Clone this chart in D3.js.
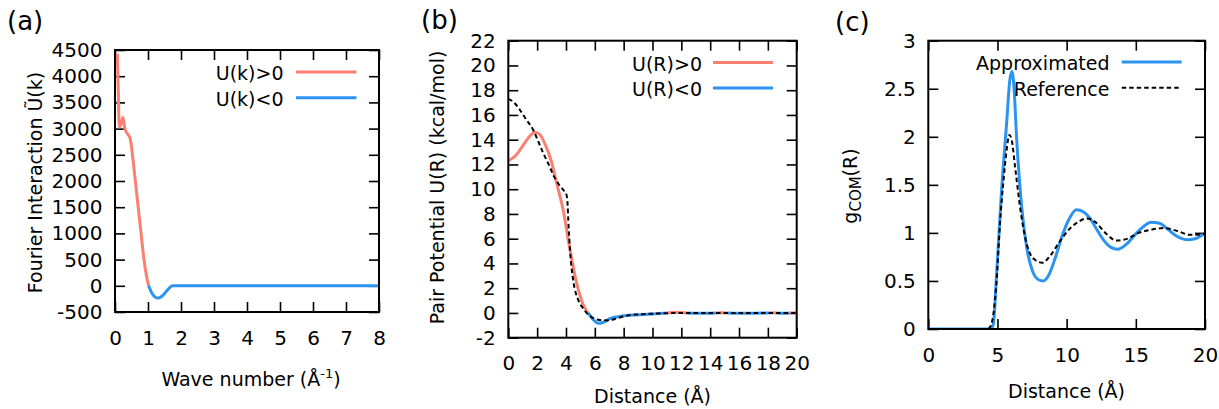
<!DOCTYPE html>
<html>
<head>
<meta charset="utf-8">
<script src="https://cdn.jsdelivr.net/npm/d3@7"></script>
<style>
  body { margin: 0; background: #fff; }
  svg text { font-family: "DejaVu Sans", sans-serif; fill: #000; }
</style>
</head>
<body>
<svg id="fig" width="1219" height="409"></svg>
<script>
// ---------- (a) Fourier-space interaction Ũ(k) ----------
const waveNumber = [0.07, 0.10, 0.13, 0.19, 0.24, 0.30, 0.38, 0.46, 0.57, 0.68, 0.79, 0.88, 0.96, 1.02,
                    1.10, 1.20, 1.31, 1.42, 1.55, 1.65, 1.74, 3, 5, 8];
const fourierU   = [4430, 3700, 3030, 3100, 3210, 3000, 2900, 2810, 2270, 1630, 1000, 490, 170, 0,
                    -120, -205, -235, -200, -110, -40, 0, 0, 0, 0];
const xTicksA = [0, 1, 2, 3, 4, 5, 6, 7, 8];
const yTicksA = [-500, 0, 500, 1000, 1500, 2000, 2500, 3000, 3500, 4000, 4500];

// ---------- (b) pair potential U(R) ----------
const distanceB = [0, 0.5, 1.0, 1.5, 1.85, 2.2, 2.6, 3.0, 3.35, 3.81, 4.28, 4.74, 5.0, 5.32, 5.54,
                   5.9, 6.25, 6.6, 7.05, 7.6, 8.2, 9, 10, 10.97, 11.7, 12.4, 13.4, 14.4, 14.8, 15.2,
                   16.6, 18.1, 18.35, 18.6, 19.0, 19.5, 20];
const pairU     = [12.3, 12.7, 13.5, 14.3, 14.6, 14.4, 13.5, 12.2, 10.5, 8.3, 5.1, 2.4, 1.3, 0.37, 0,
                   -0.55, -0.84, -0.75, -0.45, -0.3, -0.2, -0.15, -0.08, 0, 0.05, 0, -0.03, 0, 0.02, 0,
                   -0.03, 0, 0.015, 0, -0.02, 0, 0.015];
const distanceBRef = [0, 0.4, 0.81, 1.2, 1.73, 2.1, 2.43, 2.8, 3.12, 3.5, 3.81, 4.02, 4.1, 4.16, 4.28,
                      4.5, 4.85, 5.2, 5.43, 5.8, 6.35, 6.9, 7.5, 8.2, 9, 10, 11, 12, 14, 16, 18, 20];
const pairURef     = [17.3, 17.0, 16.4, 15.7, 14.78, 13.8, 12.9, 12.0, 11.15, 10.4, 9.94, 9.6, 9.0, 7.5, 5.09,
                      2.66, 1.05, 0.35, 0.0, -0.35, -0.57, -0.6, -0.45, -0.22, -0.12, -0.06, -0.02, 0, 0, 0, 0, 0];
const xTicksB = [0, 2, 4, 6, 8, 10, 12, 14, 16, 18, 20];
const yTicksB = [-2, 0, 2, 4, 6, 8, 10, 12, 14, 16, 18, 20, 22];

// ---------- (c) centre-of-mass radial distribution ----------
const distanceC = [0, 4.5, 4.7, 4.94, 5.3, 5.66, 5.9, 6.05, 6.2, 6.39, 6.75, 7.1, 7.6, 8.0, 8.3, 8.7,
                   9.2, 9.7, 10.2, 10.7, 11.2, 11.7, 12.2, 12.7, 13.2, 13.7, 14.3, 15.0, 15.5, 16.1,
                   16.7, 17.3, 17.9, 18.7, 19.3, 20];
const gApprox   = [0, 0, 0.05, 0.58, 1.45, 2.14, 2.6, 2.68, 2.5, 1.97, 1.27, 0.86, 0.58, 0.51, 0.50, 0.56,
                   0.75, 0.98, 1.15, 1.24, 1.22, 1.15, 1.03, 0.92, 0.85, 0.83, 0.88, 0.99, 1.06, 1.11,
                   1.10, 1.04, 0.97, 0.93, 0.94, 1.00];
const distanceCRef = [0, 4.3, 4.46, 4.7, 4.94, 5.18, 5.42, 5.65, 5.86, 6.05, 6.27, 6.63, 7.1, 7.7, 8.25,
                      8.8, 9.5, 10.2, 10.8, 11.45, 12.1, 12.8, 13.6, 14.4, 15.2, 16.0, 17.0, 18.0, 18.9, 19.5, 20];
const gReference   = [0, 0, 0.02, 0.15, 0.51, 1.10, 1.52, 1.85, 2.02, 1.95, 1.69, 1.27, 0.89, 0.72, 0.69,
                      0.76, 0.91, 1.04, 1.11, 1.15, 1.11, 1.0, 0.92, 0.94, 1.0, 1.03, 1.05, 1.02, 0.98, 0.98, 0.995];
const xTicksC = [0, 5, 10, 15, 20];
const yTicksC = [0, 0.5, 1, 1.5, 2, 2.5, 3];

const POS = "#fa8072";   // positive part / salmon
const NEG = "#2c94f0";   // negative part / blue
const TICK = 10;

const svg = d3.select("#fig");

// Break a curve into runs of equal sign, sharing the zero-crossing point between neighbours.
function splitBySign(xs, ys) {
  const pts = xs.map((x, i) => ({ x, y: ys[i] }));
  const first = pts.find(p => p.y !== 0);
  let curSign = first ? Math.sign(first.y) : 1;
  let cur = [pts[0]];
  const runs = [];
  for (let i = 1; i < pts.length; i++) {
    const p = pts[i];
    const s = Math.sign(p.y);
    if (s === 0 || s === curSign) { cur.push(p); continue; }
    const last = cur[cur.length - 1];
    let joint = last;
    if (last.y !== 0) {
      const t = last.y / (last.y - p.y);
      joint = { x: last.x + t * (p.x - last.x), y: 0 };
      cur.push(joint);
    }
    runs.push({ sign: curSign, pts: cur });
    cur = [joint, p];
    curSign = s;
  }
  runs.push({ sign: curSign, pts: cur });
  return runs;
}

function makePanel(cfg) {
  const g = svg.append("g");
  const x = d3.scaleLinear().domain(cfg.xDomain).range([cfg.left, cfg.right]);
  const y = d3.scaleLinear().domain(cfg.yDomain).range([cfg.bottom, cfg.top]);
  const fmt = cfg.yFormat || (d => d);

  const ax = (sel) => { sel.select(".domain").remove();
    sel.selectAll(".tick line").attr("stroke", "#000").attr("stroke-width", 1.6);
    sel.selectAll("text").attr("font-size", 20).attr("font-family", "DejaVu Sans").attr("fill", "#000"); };

  g.append("g").attr("transform", `translate(0,${cfg.bottom})`)
    .call(d3.axisBottom(x).tickValues(cfg.xTicks).tickSize(-TICK).tickSizeOuter(0).tickPadding(18.5).tickFormat(d => d))
    .call(ax);
  g.append("g").attr("transform", `translate(0,${cfg.top})`)
    .call(d3.axisTop(x).tickValues(cfg.xTicks).tickSize(-TICK).tickSizeOuter(0).tickFormat(""))
    .call(ax);
  g.append("g").attr("transform", `translate(${cfg.left},0)`)
    .call(d3.axisLeft(y).tickValues(cfg.yTicks).tickSize(-TICK).tickSizeOuter(0).tickPadding(12.5).tickFormat(fmt))
    .call(ax);
  g.append("g").attr("transform", `translate(${cfg.right},0)`)
    .call(d3.axisRight(y).tickValues(cfg.yTicks).tickSize(-TICK).tickSizeOuter(0).tickFormat(""))
    .call(ax);

  const clipId = "clip-" + cfg.id;
  svg.append("clipPath").attr("id", clipId).append("rect")
    .attr("x", cfg.left).attr("y", cfg.top)
    .attr("width", cfg.right - cfg.left).attr("height", cfg.bottom - cfg.top);
  const plot = g.append("g").attr("clip-path", `url(#${clipId})`);

  g.append("rect").attr("x", cfg.left).attr("y", cfg.top)
    .attr("width", cfg.right - cfg.left).attr("height", cfg.bottom - cfg.top)
    .attr("fill", "none").attr("stroke", "#000").attr("stroke-width", 2);

  return { g, plot, x, y };
}

const lineGen = (x, y) => d3.line().x(d => x(d.x)).y(d => y(d.y)).curve(d3.curveMonotoneX);
const pairs = (xs, ys) => xs.map((v, i) => ({ x: v, y: ys[i] }));

function drawSigned(p, xs, ys) {
  splitBySign(xs, ys).forEach(run => {
    p.plot.append("path").attr("d", lineGen(p.x, p.y)(run.pts))
      .attr("fill", "none").attr("stroke", run.sign > 0 ? POS : NEG)
      .attr("stroke-width", 3).attr("stroke-linejoin", "round");
  });
}
function drawDashed(p, xs, ys) {
  p.plot.append("path").attr("d", lineGen(p.x, p.y)(pairs(xs, ys)))
    .attr("fill", "none").attr("stroke", "#000").attr("stroke-width", 2)
    .attr("stroke-dasharray", "4.5,3");
}
function legendEntry(g, textRight, lineX0, lineX1, lineY, label, style) {
  g.append("text").attr("x", textRight).attr("y", lineY + 8.3).attr("text-anchor", "end")
    .attr("font-size", 19).text(label);
  const l = g.append("line").attr("x1", lineX0).attr("x2", lineX1).attr("y1", lineY).attr("y2", lineY)
    .attr("stroke", style.color).attr("stroke-width", style.width);
  if (style.dash) l.attr("stroke-dasharray", style.dash);
}
function panelTag(x, y, label) {
  svg.append("text").attr("x", x).attr("y", y).attr("font-size", 26).text(label);
}
function yTitle(g, cx, cy, build) {
  const t = g.append("text").attr("transform", `translate(${cx},${cy}) rotate(-90)`)
    .attr("text-anchor", "middle").attr("dy", "0.35em").attr("font-size", 19);
  build(t);
}

// ----- panel (a) -----
const pa = makePanel({ id: "a", left: 115, right: 379, top: 50, bottom: 312,
  xDomain: [0, 8], yDomain: [-500, 4500], xTicks: xTicksA, yTicks: yTicksA });
drawSigned(pa, waveNumber, fourierU);
legendEntry(pa.g, 283.5, 296, 356.5, 72, "U(k)>0", { color: POS, width: 3 });
legendEntry(pa.g, 283.5, 296, 356.5, 97.7, "U(k)<0", { color: NEG, width: 3 });
yTitle(pa.g, 35, 182.5, t => t.text("Fourier Interaction Ũ(k)"));
{
  const t = pa.g.append("text").attr("x", 251).attr("y", 386).attr("text-anchor", "middle").attr("font-size", 19);
  t.append("tspan").text("Wave number (Å");
  t.append("tspan").attr("font-size", 13).attr("dy", -8).text("-1");
  t.append("tspan").attr("dy", 8).text(")");
}
panelTag(7, 30, "(a)");

// ----- panel (b) -----
const pb = makePanel({ id: "b", left: 508.3, right: 796.7, top: 40.7, bottom: 337.7,
  xDomain: [0, 20], yDomain: [-2, 22], xTicks: xTicksB, yTicks: yTicksB });
drawSigned(pb, distanceB, pairU);
drawDashed(pb, distanceBRef, pairURef);
legendEntry(pb.g, 702, 713, 773, 62.5, "U(R)>0", { color: POS, width: 3 });
legendEntry(pb.g, 702, 713, 773, 88, "U(R)<0", { color: NEG, width: 3 });
yTitle(pb.g, 437.5, 187.5, t => t.text("Pair Potential U(R) (kcal/mol)"));
pb.g.append("text").attr("x", 652.5).attr("y", 403).attr("text-anchor", "middle").attr("font-size", 19).text("Distance (Å)");
panelTag(421, 29, "(b)");

// ----- panel (c) -----
const pc = makePanel({ id: "c", left: 928.3, right: 1205, top: 40.7, bottom: 329,
  xDomain: [0, 20], yDomain: [0, 3], xTicks: xTicksC, yTicks: yTicksC });
pc.plot.append("path").attr("d", lineGen(pc.x, pc.y)(pairs(distanceC, gApprox)))
  .attr("fill", "none").attr("stroke", NEG).attr("stroke-width", 3);
drawDashed(pc, distanceCRef, gReference);
legendEntry(pc.g, 1109.5, 1121.7, 1181.7, 62, "Approximated", { color: NEG, width: 3 });
legendEntry(pc.g, 1109.5, 1121.7, 1181.7, 87.7, "Reference", { color: "#000", width: 2, dash: "4.5,3" });
yTitle(pc.g, 850, 186, t => {
  t.append("tspan").text("g");
  t.append("tspan").attr("font-size", 15).attr("dy", 4).text("COM");
  t.append("tspan").attr("dy", -4).text("(R)");
});
pc.g.append("text").attr("x", 1066.5).attr("y", 398).attr("text-anchor", "middle").attr("font-size", 19).text("Distance (Å)");
panelTag(835, 31, "(c)");
</script>
</body>
</html>
